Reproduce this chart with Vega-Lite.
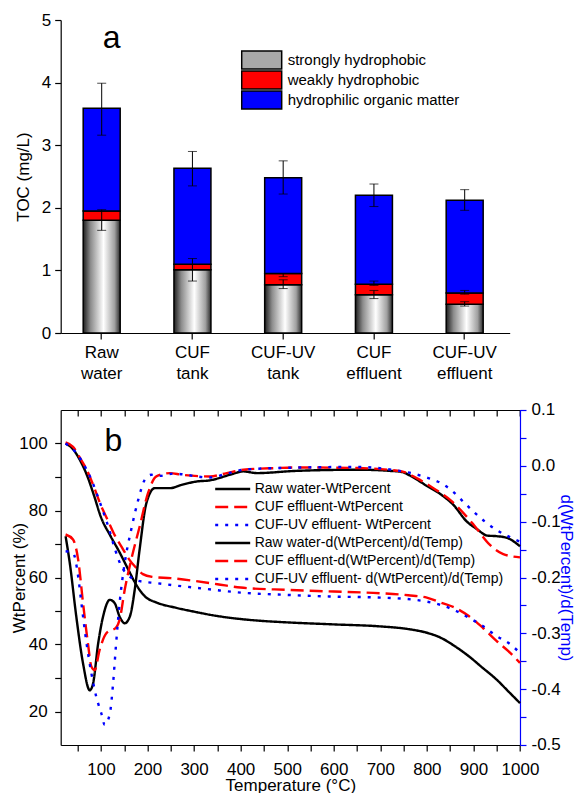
{
  "$schema": "https://vega.github.io/schema/vega-lite/v6.json",
  "background": "white",
  "padding": {"left": 9.7, "top": 11, "right": 0, "bottom": 0},
  "spacing": 19,
  "config": {
    "font": "Liberation Sans",
    "view": {"stroke": null},
    "axis": {"labelFont": "Liberation Sans", "titleFont": "Liberation Sans", "labelColor": "black", "titleColor": "black", "domainColor": "black", "tickColor": "black", "titleFontWeight": "normal", "grid": false, "labelFontSize": 17, "titleFontSize": 17, "domainWidth": 1.2, "tickWidth": 1.2},
    "legend": {"labelFont": "Liberation Sans", "labelColor": "black"}
  },
  "datasets": {
    "bars": [
      {"cat": "Raw water", "comp": "strongly hydrophobic", "rank": 1, "value": 1.80},
      {"cat": "Raw water", "comp": "weakly hydrophobic", "rank": 2, "value": 0.15},
      {"cat": "Raw water", "comp": "hydrophilic organic matter", "rank": 3, "value": 1.64},
      {"cat": "CUF tank", "comp": "strongly hydrophobic", "rank": 1, "value": 1.01},
      {"cat": "CUF tank", "comp": "weakly hydrophobic", "rank": 2, "value": 0.09},
      {"cat": "CUF tank", "comp": "hydrophilic organic matter", "rank": 3, "value": 1.53},
      {"cat": "CUF-UV tank", "comp": "strongly hydrophobic", "rank": 1, "value": 0.77},
      {"cat": "CUF-UV tank", "comp": "weakly hydrophobic", "rank": 2, "value": 0.18},
      {"cat": "CUF-UV tank", "comp": "hydrophilic organic matter", "rank": 3, "value": 1.53},
      {"cat": "CUF effluent", "comp": "strongly hydrophobic", "rank": 1, "value": 0.61},
      {"cat": "CUF effluent", "comp": "weakly hydrophobic", "rank": 2, "value": 0.17},
      {"cat": "CUF effluent", "comp": "hydrophilic organic matter", "rank": 3, "value": 1.42},
      {"cat": "CUF-UV effluent", "comp": "strongly hydrophobic", "rank": 1, "value": 0.46},
      {"cat": "CUF-UV effluent", "comp": "weakly hydrophobic", "rank": 2, "value": 0.18},
      {"cat": "CUF-UV effluent", "comp": "hydrophilic organic matter", "rank": 3, "value": 1.48}
    ],
    "errs": [
      {"cat": "Raw water", "lo": 3.16, "hi": 3.99},
      {"cat": "Raw water", "lo": 1.64, "hi": 1.97},
      {"cat": "CUF tank", "lo": 2.35, "hi": 2.90},
      {"cat": "CUF tank", "lo": 0.83, "hi": 1.19},
      {"cat": "CUF-UV tank", "lo": 2.22, "hi": 2.75},
      {"cat": "CUF-UV tank", "lo": 0.71, "hi": 0.85},
      {"cat": "CUF-UV tank", "lo": 0.90, "hi": 0.95},
      {"cat": "CUF effluent", "lo": 2.02, "hi": 2.38},
      {"cat": "CUF effluent", "lo": 0.55, "hi": 0.68},
      {"cat": "CUF effluent", "lo": 0.76, "hi": 0.83},
      {"cat": "CUF-UV effluent", "lo": 1.96, "hi": 2.29},
      {"cat": "CUF-UV effluent", "lo": 0.43, "hi": 0.50},
      {"cat": "CUF-UV effluent", "lo": 0.62, "hi": 0.68}
    ],
    "tg": [
      {"series": "Raw water-WtPercent", "T": 24, "wt": 100},
      {"series": "Raw water-WtPercent", "T": 40, "wt": 98.3},
      {"series": "Raw water-WtPercent", "T": 55, "wt": 95},
      {"series": "Raw water-WtPercent", "T": 70, "wt": 90.5},
      {"series": "Raw water-WtPercent", "T": 85, "wt": 84.5},
      {"series": "Raw water-WtPercent", "T": 100, "wt": 78},
      {"series": "Raw water-WtPercent", "T": 120, "wt": 72.5},
      {"series": "Raw water-WtPercent", "T": 140, "wt": 67.5},
      {"series": "Raw water-WtPercent", "T": 160, "wt": 62},
      {"series": "Raw water-WtPercent", "T": 175, "wt": 58},
      {"series": "Raw water-WtPercent", "T": 195, "wt": 54.3},
      {"series": "Raw water-WtPercent", "T": 220, "wt": 52.5},
      {"series": "Raw water-WtPercent", "T": 260, "wt": 51},
      {"series": "Raw water-WtPercent", "T": 300, "wt": 49.8},
      {"series": "Raw water-WtPercent", "T": 350, "wt": 48.5},
      {"series": "Raw water-WtPercent", "T": 400, "wt": 47.6},
      {"series": "Raw water-WtPercent", "T": 450, "wt": 47},
      {"series": "Raw water-WtPercent", "T": 500, "wt": 46.6},
      {"series": "Raw water-WtPercent", "T": 600, "wt": 46},
      {"series": "Raw water-WtPercent", "T": 700, "wt": 45.4},
      {"series": "Raw water-WtPercent", "T": 760, "wt": 44.6},
      {"series": "Raw water-WtPercent", "T": 800, "wt": 43.5},
      {"series": "Raw water-WtPercent", "T": 830, "wt": 42},
      {"series": "Raw water-WtPercent", "T": 860, "wt": 39.5},
      {"series": "Raw water-WtPercent", "T": 890, "wt": 36.5},
      {"series": "Raw water-WtPercent", "T": 920, "wt": 33},
      {"series": "Raw water-WtPercent", "T": 950, "wt": 29.5},
      {"series": "Raw water-WtPercent", "T": 975, "wt": 26},
      {"series": "Raw water-WtPercent", "T": 1000, "wt": 22.5},
      {"series": "CUF effluent-WtPercent", "T": 24, "wt": 100.3},
      {"series": "CUF effluent-WtPercent", "T": 40, "wt": 99},
      {"series": "CUF effluent-WtPercent", "T": 55, "wt": 95.7},
      {"series": "CUF effluent-WtPercent", "T": 70, "wt": 92},
      {"series": "CUF effluent-WtPercent", "T": 85, "wt": 87},
      {"series": "CUF effluent-WtPercent", "T": 100, "wt": 81.5},
      {"series": "CUF effluent-WtPercent", "T": 115, "wt": 77},
      {"series": "CUF effluent-WtPercent", "T": 130, "wt": 72.5},
      {"series": "CUF effluent-WtPercent", "T": 145, "wt": 69},
      {"series": "CUF effluent-WtPercent", "T": 160, "wt": 65.5},
      {"series": "CUF effluent-WtPercent", "T": 175, "wt": 63},
      {"series": "CUF effluent-WtPercent", "T": 190, "wt": 61},
      {"series": "CUF effluent-WtPercent", "T": 210, "wt": 60.2},
      {"series": "CUF effluent-WtPercent", "T": 250, "wt": 59.8},
      {"series": "CUF effluent-WtPercent", "T": 300, "wt": 59},
      {"series": "CUF effluent-WtPercent", "T": 350, "wt": 58},
      {"series": "CUF effluent-WtPercent", "T": 400, "wt": 57},
      {"series": "CUF effluent-WtPercent", "T": 500, "wt": 56.3},
      {"series": "CUF effluent-WtPercent", "T": 600, "wt": 55.8},
      {"series": "CUF effluent-WtPercent", "T": 700, "wt": 55.3},
      {"series": "CUF effluent-WtPercent", "T": 760, "wt": 54.7},
      {"series": "CUF effluent-WtPercent", "T": 800, "wt": 54},
      {"series": "CUF effluent-WtPercent", "T": 830, "wt": 52.5},
      {"series": "CUF effluent-WtPercent", "T": 860, "wt": 51},
      {"series": "CUF effluent-WtPercent", "T": 890, "wt": 48.5},
      {"series": "CUF effluent-WtPercent", "T": 920, "wt": 45},
      {"series": "CUF effluent-WtPercent", "T": 950, "wt": 41},
      {"series": "CUF effluent-WtPercent", "T": 975, "wt": 38},
      {"series": "CUF effluent-WtPercent", "T": 1000, "wt": 34.5},
      {"series": "CUF-UV effluent- WtPercent", "T": 24, "wt": 100},
      {"series": "CUF-UV effluent- WtPercent", "T": 45, "wt": 97.5},
      {"series": "CUF-UV effluent- WtPercent", "T": 60, "wt": 94.5},
      {"series": "CUF-UV effluent- WtPercent", "T": 80, "wt": 89},
      {"series": "CUF-UV effluent- WtPercent", "T": 100, "wt": 81.5},
      {"series": "CUF-UV effluent- WtPercent", "T": 115, "wt": 75.5},
      {"series": "CUF-UV effluent- WtPercent", "T": 130, "wt": 68.5},
      {"series": "CUF-UV effluent- WtPercent", "T": 145, "wt": 63},
      {"series": "CUF-UV effluent- WtPercent", "T": 160, "wt": 60.5},
      {"series": "CUF-UV effluent- WtPercent", "T": 180, "wt": 59},
      {"series": "CUF-UV effluent- WtPercent", "T": 220, "wt": 58.3},
      {"series": "CUF-UV effluent- WtPercent", "T": 260, "wt": 57.6},
      {"series": "CUF-UV effluent- WtPercent", "T": 300, "wt": 57},
      {"series": "CUF-UV effluent- WtPercent", "T": 350, "wt": 56.2},
      {"series": "CUF-UV effluent- WtPercent", "T": 400, "wt": 55.5},
      {"series": "CUF-UV effluent- WtPercent", "T": 500, "wt": 54.8},
      {"series": "CUF-UV effluent- WtPercent", "T": 600, "wt": 54.3},
      {"series": "CUF-UV effluent- WtPercent", "T": 700, "wt": 54},
      {"series": "CUF-UV effluent- WtPercent", "T": 770, "wt": 53.4},
      {"series": "CUF-UV effluent- WtPercent", "T": 800, "wt": 52.8},
      {"series": "CUF-UV effluent- WtPercent", "T": 830, "wt": 51.8},
      {"series": "CUF-UV effluent- WtPercent", "T": 860, "wt": 50.2},
      {"series": "CUF-UV effluent- WtPercent", "T": 890, "wt": 48},
      {"series": "CUF-UV effluent- WtPercent", "T": 920, "wt": 45.5},
      {"series": "CUF-UV effluent- WtPercent", "T": 950, "wt": 42.5},
      {"series": "CUF-UV effluent- WtPercent", "T": 975, "wt": 40.5},
      {"series": "CUF-UV effluent- WtPercent", "T": 1000, "wt": 37.5}
    ],
    "dtg": [
      {"series": "Raw water-d(WtPercent)/d(Temp)", "T": 24, "deriv": -0.126},
      {"series": "Raw water-d(WtPercent)/d(Temp)", "T": 33, "deriv": -0.174},
      {"series": "Raw water-d(WtPercent)/d(Temp)", "T": 47, "deriv": -0.270},
      {"series": "Raw water-d(WtPercent)/d(Temp)", "T": 61.5, "deriv": -0.354},
      {"series": "Raw water-d(WtPercent)/d(Temp)", "T": 76, "deriv": -0.402},
      {"series": "Raw water-d(WtPercent)/d(Temp)", "T": 83, "deriv": -0.390},
      {"series": "Raw water-d(WtPercent)/d(Temp)", "T": 94, "deriv": -0.318},
      {"series": "Raw water-d(WtPercent)/d(Temp)", "T": 104.5, "deriv": -0.270},
      {"series": "Raw water-d(WtPercent)/d(Temp)", "T": 119, "deriv": -0.240},
      {"series": "Raw water-d(WtPercent)/d(Temp)", "T": 129.5, "deriv": -0.246},
      {"series": "Raw water-d(WtPercent)/d(Temp)", "T": 140, "deriv": -0.270},
      {"series": "Raw water-d(WtPercent)/d(Temp)", "T": 151, "deriv": -0.282},
      {"series": "Raw water-d(WtPercent)/d(Temp)", "T": 162, "deriv": -0.270},
      {"series": "Raw water-d(WtPercent)/d(Temp)", "T": 172.5, "deriv": -0.222},
      {"series": "Raw water-d(WtPercent)/d(Temp)", "T": 183, "deriv": -0.150},
      {"series": "Raw water-d(WtPercent)/d(Temp)", "T": 197.5, "deriv": -0.067},
      {"series": "Raw water-d(WtPercent)/d(Temp)", "T": 215.5, "deriv": -0.040},
      {"series": "Raw water-d(WtPercent)/d(Temp)", "T": 248, "deriv": -0.040},
      {"series": "Raw water-d(WtPercent)/d(Temp)", "T": 273.5, "deriv": -0.034},
      {"series": "Raw water-d(WtPercent)/d(Temp)", "T": 306, "deriv": -0.028},
      {"series": "Raw water-d(WtPercent)/d(Temp)", "T": 334, "deriv": -0.026},
      {"series": "Raw water-d(WtPercent)/d(Temp)", "T": 377, "deriv": -0.016},
      {"series": "Raw water-d(WtPercent)/d(Temp)", "T": 406, "deriv": -0.010},
      {"series": "Raw water-d(WtPercent)/d(Temp)", "T": 434.5, "deriv": -0.013},
      {"series": "Raw water-d(WtPercent)/d(Temp)", "T": 520, "deriv": -0.009},
      {"series": "Raw water-d(WtPercent)/d(Temp)", "T": 653, "deriv": -0.007},
      {"series": "Raw water-d(WtPercent)/d(Temp)", "T": 720, "deriv": -0.009},
      {"series": "Raw water-d(WtPercent)/d(Temp)", "T": 746, "deriv": -0.011},
      {"series": "Raw water-d(WtPercent)/d(Temp)", "T": 767, "deriv": -0.019},
      {"series": "Raw water-d(WtPercent)/d(Temp)", "T": 800, "deriv": -0.036},
      {"series": "Raw water-d(WtPercent)/d(Temp)", "T": 828, "deriv": -0.050},
      {"series": "Raw water-d(WtPercent)/d(Temp)", "T": 857, "deriv": -0.070},
      {"series": "Raw water-d(WtPercent)/d(Temp)", "T": 886, "deriv": -0.100},
      {"series": "Raw water-d(WtPercent)/d(Temp)", "T": 907, "deriv": -0.113},
      {"series": "Raw water-d(WtPercent)/d(Temp)", "T": 930, "deriv": -0.125},
      {"series": "Raw water-d(WtPercent)/d(Temp)", "T": 950, "deriv": -0.126},
      {"series": "Raw water-d(WtPercent)/d(Temp)", "T": 972, "deriv": -0.129},
      {"series": "Raw water-d(WtPercent)/d(Temp)", "T": 1000, "deriv": -0.144},
      {"series": "CUF effluent-d(WtPercent)/d(Temp)", "T": 24, "deriv": -0.123},
      {"series": "CUF effluent-d(WtPercent)/d(Temp)", "T": 40, "deriv": -0.132},
      {"series": "CUF effluent-d(WtPercent)/d(Temp)", "T": 51, "deriv": -0.168},
      {"series": "CUF effluent-d(WtPercent)/d(Temp)", "T": 61.5, "deriv": -0.246},
      {"series": "CUF effluent-d(WtPercent)/d(Temp)", "T": 72, "deriv": -0.318},
      {"series": "CUF effluent-d(WtPercent)/d(Temp)", "T": 79.5, "deriv": -0.360},
      {"series": "CUF effluent-d(WtPercent)/d(Temp)", "T": 86.5, "deriv": -0.366},
      {"series": "CUF effluent-d(WtPercent)/d(Temp)", "T": 97, "deriv": -0.330},
      {"series": "CUF effluent-d(WtPercent)/d(Temp)", "T": 111.5, "deriv": -0.300},
      {"series": "CUF effluent-d(WtPercent)/d(Temp)", "T": 133, "deriv": -0.289},
      {"series": "CUF effluent-d(WtPercent)/d(Temp)", "T": 140, "deriv": -0.276},
      {"series": "CUF effluent-d(WtPercent)/d(Temp)", "T": 151, "deriv": -0.222},
      {"series": "CUF effluent-d(WtPercent)/d(Temp)", "T": 165, "deriv": -0.168},
      {"series": "CUF effluent-d(WtPercent)/d(Temp)", "T": 183, "deriv": -0.109},
      {"series": "CUF effluent-d(WtPercent)/d(Temp)", "T": 201, "deriv": -0.049},
      {"series": "CUF effluent-d(WtPercent)/d(Temp)", "T": 219, "deriv": -0.019},
      {"series": "CUF effluent-d(WtPercent)/d(Temp)", "T": 248, "deriv": -0.013},
      {"series": "CUF effluent-d(WtPercent)/d(Temp)", "T": 273.5, "deriv": -0.016},
      {"series": "CUF effluent-d(WtPercent)/d(Temp)", "T": 334, "deriv": -0.019},
      {"series": "CUF effluent-d(WtPercent)/d(Temp)", "T": 370, "deriv": -0.013},
      {"series": "CUF effluent-d(WtPercent)/d(Temp)", "T": 406, "deriv": -0.007},
      {"series": "CUF effluent-d(WtPercent)/d(Temp)", "T": 477.5, "deriv": -0.004},
      {"series": "CUF effluent-d(WtPercent)/d(Temp)", "T": 520, "deriv": -0.003},
      {"series": "CUF effluent-d(WtPercent)/d(Temp)", "T": 653, "deriv": -0.004},
      {"series": "CUF effluent-d(WtPercent)/d(Temp)", "T": 746, "deriv": -0.010},
      {"series": "CUF effluent-d(WtPercent)/d(Temp)", "T": 778, "deriv": -0.022},
      {"series": "CUF effluent-d(WtPercent)/d(Temp)", "T": 814, "deriv": -0.040},
      {"series": "CUF effluent-d(WtPercent)/d(Temp)", "T": 850, "deriv": -0.061},
      {"series": "CUF effluent-d(WtPercent)/d(Temp)", "T": 900, "deriv": -0.105},
      {"series": "CUF effluent-d(WtPercent)/d(Temp)", "T": 936, "deriv": -0.142},
      {"series": "CUF effluent-d(WtPercent)/d(Temp)", "T": 964, "deriv": -0.158},
      {"series": "CUF effluent-d(WtPercent)/d(Temp)", "T": 1000, "deriv": -0.164},
      {"series": "CUF-UV effluent- d(WtPercent)/d(Temp)", "T": 24, "deriv": -0.153},
      {"series": "CUF-UV effluent- d(WtPercent)/d(Temp)", "T": 40, "deriv": -0.156},
      {"series": "CUF-UV effluent- d(WtPercent)/d(Temp)", "T": 51, "deriv": -0.198},
      {"series": "CUF-UV effluent- d(WtPercent)/d(Temp)", "T": 58, "deriv": -0.246},
      {"series": "CUF-UV effluent- d(WtPercent)/d(Temp)", "T": 69, "deriv": -0.318},
      {"series": "CUF-UV effluent- d(WtPercent)/d(Temp)", "T": 79.5, "deriv": -0.372},
      {"series": "CUF-UV effluent- d(WtPercent)/d(Temp)", "T": 90, "deriv": -0.414},
      {"series": "CUF-UV effluent- d(WtPercent)/d(Temp)", "T": 101, "deriv": -0.444},
      {"series": "CUF-UV effluent- d(WtPercent)/d(Temp)", "T": 108, "deriv": -0.464},
      {"series": "CUF-UV effluent- d(WtPercent)/d(Temp)", "T": 119, "deriv": -0.444},
      {"series": "CUF-UV effluent- d(WtPercent)/d(Temp)", "T": 126, "deriv": -0.390},
      {"series": "CUF-UV effluent- d(WtPercent)/d(Temp)", "T": 132, "deriv": -0.324},
      {"series": "CUF-UV effluent- d(WtPercent)/d(Temp)", "T": 140, "deriv": -0.246},
      {"series": "CUF-UV effluent- d(WtPercent)/d(Temp)", "T": 151, "deriv": -0.174},
      {"series": "CUF-UV effluent- d(WtPercent)/d(Temp)", "T": 165, "deriv": -0.114},
      {"series": "CUF-UV effluent- d(WtPercent)/d(Temp)", "T": 180, "deriv": -0.061},
      {"series": "CUF-UV effluent- d(WtPercent)/d(Temp)", "T": 194, "deriv": -0.025},
      {"series": "CUF-UV effluent- d(WtPercent)/d(Temp)", "T": 208, "deriv": -0.016},
      {"series": "CUF-UV effluent- d(WtPercent)/d(Temp)", "T": 226, "deriv": -0.018},
      {"series": "CUF-UV effluent- d(WtPercent)/d(Temp)", "T": 255, "deriv": -0.014},
      {"series": "CUF-UV effluent- d(WtPercent)/d(Temp)", "T": 334, "deriv": -0.021},
      {"series": "CUF-UV effluent- d(WtPercent)/d(Temp)", "T": 370, "deriv": -0.014},
      {"series": "CUF-UV effluent- d(WtPercent)/d(Temp)", "T": 406, "deriv": -0.007},
      {"series": "CUF-UV effluent- d(WtPercent)/d(Temp)", "T": 477.5, "deriv": -0.004},
      {"series": "CUF-UV effluent- d(WtPercent)/d(Temp)", "T": 653, "deriv": -0.002},
      {"series": "CUF-UV effluent- d(WtPercent)/d(Temp)", "T": 724.5, "deriv": -0.007},
      {"series": "CUF-UV effluent- d(WtPercent)/d(Temp)", "T": 771, "deriv": -0.014},
      {"series": "CUF-UV effluent- d(WtPercent)/d(Temp)", "T": 803, "deriv": -0.022},
      {"series": "CUF-UV effluent- d(WtPercent)/d(Temp)", "T": 828, "deriv": -0.030},
      {"series": "CUF-UV effluent- d(WtPercent)/d(Temp)", "T": 853, "deriv": -0.044},
      {"series": "CUF-UV effluent- d(WtPercent)/d(Temp)", "T": 878, "deriv": -0.064},
      {"series": "CUF-UV effluent- d(WtPercent)/d(Temp)", "T": 900, "deriv": -0.082},
      {"series": "CUF-UV effluent- d(WtPercent)/d(Temp)", "T": 925, "deriv": -0.100},
      {"series": "CUF-UV effluent- d(WtPercent)/d(Temp)", "T": 950, "deriv": -0.115},
      {"series": "CUF-UV effluent- d(WtPercent)/d(Temp)", "T": 979, "deriv": -0.128},
      {"series": "CUF-UV effluent- d(WtPercent)/d(Temp)", "T": 1000, "deriv": -0.136}
    ]
  },
  "vconcat": [
    {
      "width": 449,
      "height": 313,
      "encoding": {
        "x": {
          "field": "cat", "type": "nominal",
          "sort": ["Raw water", "CUF tank", "CUF-UV tank", "CUF effluent", "CUF-UV effluent"],
          "scale": {"domain": ["Raw water", "CUF tank", "CUF-UV tank", "CUF effluent", "CUF-UV effluent"], "paddingInner": 0.5923, "paddingOuter": 0.27, "align": 0.459},
          "axis": {"title": null, "labelAngle": 0, "labelExpr": "split(datum.label, ' ')", "labelLineHeight": 21.7, "tickSize": 6, "labelPadding": 5}
        }
      },
      "layer": [
        {
          "data": {"name": "bars"},
          "mark": {"type": "bar", "stroke": "black", "strokeWidth": 1.5},
          "encoding": {
            "y": {"field": "value", "type": "quantitative", "stack": "zero",
              "scale": {"domain": [0, 5], "nice": false},
              "axis": {"title": "TOC (mg/L)", "values": [0, 0.5, 1, 1.5, 2, 2.5, 3, 3.5, 4, 4.5, 5], "labelExpr": "datum.value % 1 === 0 ? format(datum.value, 'd') : ''", "tickSize": 6, "labelPadding": 4, "titlePadding": 9}},
            "order": {"field": "rank", "type": "quantitative"},
            "fill": {
              "field": "comp", "type": "nominal",
              "scale": {"domain": ["strongly hydrophobic", "weakly hydrophobic", "hydrophilic organic matter"], "range": ["#a8a8a8", "#ff0000", "#0000ff"]},
              "condition": {"test": "datum.comp === 'strongly hydrophobic'", "value": {"gradient": "linear", "x1": 0, "y1": 0, "x2": 1, "y2": 0, "stops": [{"offset": 0, "color": "#1e1e1e"}, {"offset": 0.2, "color": "#8c8c8c"}, {"offset": 0.55, "color": "#ffffff"}, {"offset": 0.85, "color": "#a0a0a0"}, {"offset": 1, "color": "#2a2a2a"}]}},
              "legend": {
                "orient": "none", "legendX": 180, "legendY": 30, "title": null,
                "symbolType": "M-1,-0.45H1V0.45H-1Z", "symbolSize": 1600,
                "symbolStrokeColor": "black", "symbolStrokeWidth": 1.5,
                "labelFontSize": 15, "labelLimit": 400, "clipHeight": 20, "rowPadding": 0,
                "labelOffset": 5, "padding": 0, "symbolOpacity": 1
              }
            }
          }
        },
        {
          "data": {"name": "errs"},
          "mark": {"type": "rule", "color": "black", "strokeWidth": 1},
          "encoding": {"y": {"field": "lo", "type": "quantitative"}, "y2": {"field": "hi"}}
        },
        {
          "data": {"name": "errs"},
          "mark": {"type": "tick", "color": "black", "thickness": 1, "size": 9},
          "encoding": {"y": {"field": "lo", "type": "quantitative"}}
        },
        {
          "data": {"name": "errs"},
          "mark": {"type": "tick", "color": "black", "thickness": 1, "size": 9},
          "encoding": {"y": {"field": "hi", "type": "quantitative"}}
        },
        {
          "data": {"values": [{"cat": "Raw water", "yv": 4.56, "label": "a"}]},
          "mark": {"type": "text", "fontSize": 32, "dx": 10, "baseline": "alphabetic", "align": "center", "font": "Liberation Sans"},
          "encoding": {"y": {"field": "yv", "type": "quantitative"}, "text": {"field": "label"}}
        }
      ]
    },
    {
      "width": 459.3,
      "height": 335,
      "resolve": {"scale": {"y": "independent"}, "axis": {"x": "independent", "y": "independent"}},
      "layer": [
        {
          "data": {"name": "tg"},
          "mark": {"type": "line", "strokeWidth": 2.4, "interpolate": "monotone"},
          "encoding": {
            "x": {"field": "T", "type": "quantitative", "scale": {"domain": [13.5, 1000], "nice": false, "zero": false},
              "axis": {"orient": "bottom", "title": "Temperature (°C)", "values": [50, 100, 150, 200, 250, 300, 350, 400, 450, 500, 550, 600, 650, 700, 750, 800, 850, 900, 950, 1000], "labelExpr": "datum.value % 100 === 0 ? format(datum.value, 'd') : ''", "tickSize": 6, "labelPadding": 11, "titlePadding": 0, "labelFlush": false}},
            "y": {"field": "wt", "type": "quantitative", "scale": {"domain": [10, 110], "nice": false, "zero": false},
              "axis": {"orient": "left", "title": "WtPercent (%)", "values": [20, 30, 40, 50, 60, 70, 80, 90, 100], "labelExpr": "datum.value % 20 === 0 ? format(datum.value, 'd') : ''", "tickSize": 6, "labelPadding": 7.5, "titlePadding": -9.6}},
            "color": {"field": "series", "type": "nominal",
              "scale": {"domain": ["Raw water-WtPercent", "CUF effluent-WtPercent", "CUF-UV effluent- WtPercent", "Raw water-d(WtPercent)/d(Temp)", "CUF effluent-d(WtPercent)/d(Temp)", "CUF-UV effluent- d(WtPercent)/d(Temp)"], "range": ["#000000", "#ff0000", "#0000ff", "#000000", "#ff0000", "#0000ff"]},
              "legend": {"orient": "none", "legendX": 153, "legendY": 460.3, "title": null, "symbolType": "stroke", "symbolSize": 1225, "symbolStrokeWidth": 2.4, "labelFontSize": 14, "labelLimit": 400, "clipHeight": 17.3, "rowPadding": 0, "labelOffset": 3, "padding": 0}},
            "strokeDash": {"field": "series", "type": "nominal",
              "scale": {"domain": ["Raw water-WtPercent", "CUF effluent-WtPercent", "CUF-UV effluent- WtPercent", "Raw water-d(WtPercent)/d(Temp)", "CUF effluent-d(WtPercent)/d(Temp)", "CUF-UV effluent- d(WtPercent)/d(Temp)"], "range": [[1, 0], [13, 6], [3, 7], [1, 0], [13, 6], [3, 7]]}}
          }
        },
        {
          "data": {"name": "dtg"},
          "mark": {"type": "line", "strokeWidth": 2.4, "interpolate": "monotone"},
          "encoding": {
            "x": {"field": "T", "type": "quantitative",
              "axis": {"orient": "top", "title": null, "labels": false, "values": [50, 100, 150, 200, 250, 300, 350, 400, 450, 500, 550, 600, 650, 700, 750, 800, 850, 900, 950, 1000], "tickSize": -6}},
            "y": {"field": "deriv", "type": "quantitative", "scale": {"domain": [-0.5, 0.1], "nice": false, "zero": false},
              "axis": {"orient": "right", "title": "d(WtPercent)/d(Temp)", "titleColor": "#0000ff", "domainColor": "#0000ff", "tickColor": "#0000ff", "values": [-0.5, -0.45, -0.4, -0.35, -0.3, -0.25, -0.2, -0.15, -0.1, -0.05, 0, 0.05, 0.1], "labelExpr": "abs(datum.value*10 - round(datum.value*10)) < 0.001 ? (datum.value < -0.001 ? '-' + format(abs(datum.value), '.1f') : format(abs(datum.value), '.1f')) : ''", "tickSize": 6, "labelPadding": 5, "titlePadding": -4}},
            "color": {"field": "series", "type": "nominal"},
            "strokeDash": {"field": "series", "type": "nominal"}
          }
        },
        {
          "data": {"values": [{"T": 126.7, "wt": 97.7, "label": "b"}]},
          "mark": {"type": "text", "fontSize": 32, "baseline": "alphabetic", "align": "center", "font": "Liberation Sans"},
          "encoding": {
            "x": {"field": "T", "type": "quantitative", "axis": null},
            "y": {"field": "wt", "type": "quantitative", "scale": {"domain": [10, 110], "nice": false, "zero": false}, "axis": null},
            "text": {"field": "label"}
          }
        }
      ]
    }
  ]
}
